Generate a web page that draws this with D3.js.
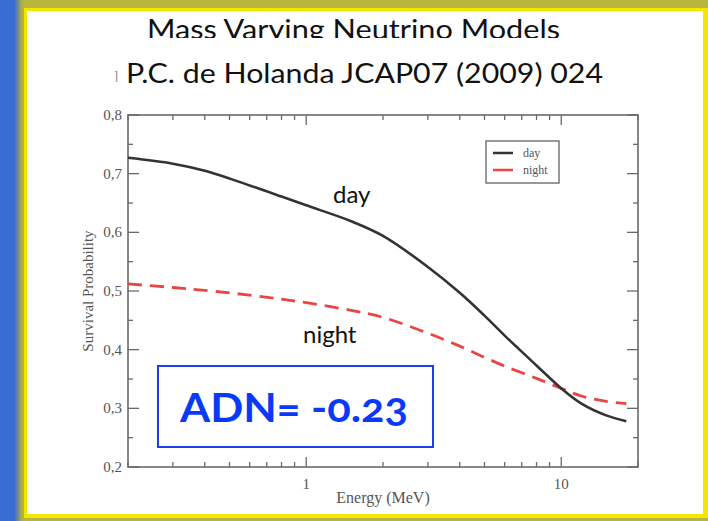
<!DOCTYPE html>
<html><head><meta charset="utf-8">
<script src="https://cdn.jsdelivr.net/npm/d3@7/dist/d3.min.js"></script>
<style>body{margin:0;background:#fff}svg{display:block}</style>
</head><body>
<svg id="c" width="708" height="521"></svg>
<script>
const energy = [0.2,0.3,0.4,0.6,0.8,1,1.5,2,3,4,5,6,8,10,12,15,18];
const dayProb = [0.727,0.717,0.705,0.680,0.661,0.646,0.619,0.594,0.541,0.497,0.458,0.424,0.373,0.334,0.308,0.288,0.278];
const nightProb = [0.512,0.506,0.501,0.493,0.486,0.480,0.467,0.455,0.428,0.406,0.387,0.372,0.351,0.334,0.321,0.312,0.308];
const yTicks = [0.2,0.3,0.4,0.5,0.6,0.7,0.8];
const xTickLabels = [1,10];
const seriesNames = ["day","night"];
const titleLines = ["Mass Varying Neutrino Models","P.C. de Holanda JCAP07 (2009) 024"];
const adnText = "ADN= -0.23";

const svg = d3.select("#c");
const defs = svg.append("defs");
const g1 = defs.append("linearGradient").attr("id","lg").attr("x1","0").attr("x2","1");
g1.append("stop").attr("offset","0").attr("stop-color","#3a6cd6");
g1.append("stop").attr("offset","0.55").attr("stop-color","#3a6cd6");
g1.append("stop").attr("offset","0.85").attr("stop-color","#b3b240");
g1.append("stop").attr("offset","1").attr("stop-color","#b8b63c");
svg.append("rect").attr("width",708).attr("height",521).attr("fill","#b8b63c");
svg.append("rect").attr("width",26).attr("height",521).attr("fill","url(#lg)");
svg.append("rect").attr("x",24).attr("y",8).attr("width",684).attr("height",510).attr("fill","#f4e600");
svg.append("rect").attr("x",27).attr("y",11).attr("width",676).attr("height",503).attr("fill","#fff");

const L=128,R=638,T=115,B=467;
const x = d3.scaleLog().domain([0.2,20]).range([L,R]);
const y = d3.scaleLinear().domain([0.2,0.8]).range([B,T]);
const axisColor="#6a6a6a";

svg.append("rect").attr("x",L).attr("y",T).attr("width",R-L).attr("height",B-T)
  .attr("fill","none").attr("stroke",axisColor).attr("stroke-width",1.6);

const xMinor = [];
[0.1,1,10].forEach(d=>{for(let k=1;k<10;k++){const v=d*k; if(v>=0.2&&v<=20) xMinor.push(v);}});
const tg = svg.append("g").attr("stroke",axisColor).attr("stroke-width",1.3);
xMinor.forEach(v=>{
  const major = xTickLabels.includes(v);
  const len = major?10:5;
  tg.append("line").attr("x1",x(v)).attr("x2",x(v)).attr("y1",B).attr("y2",B-len);
  tg.append("line").attr("x1",x(v)).attr("x2",x(v)).attr("y1",T).attr("y2",T+len);
});
const yMinor = d3.range(0.25,0.8,0.1);
yTicks.forEach(v=>{
  tg.append("line").attr("x1",L).attr("x2",L+11).attr("y1",y(v)).attr("y2",y(v));
  tg.append("line").attr("x1",R).attr("x2",R-11).attr("y1",y(v)).attr("y2",y(v));
});
yMinor.forEach(v=>{
  tg.append("line").attr("x1",L).attr("x2",L+5).attr("y1",y(v)).attr("y2",y(v));
  tg.append("line").attr("x1",R).attr("x2",R-5).attr("y1",y(v)).attr("y2",y(v));
});
const serif = "'Liberation Serif','DejaVu Serif',serif";
const lab = svg.append("g").attr("font-family",serif).attr("fill","#555").attr("font-size",15);
yTicks.forEach(v=>{
  lab.append("text").attr("x",L-6).attr("y",y(v)+5).attr("text-anchor","end")
    .text(d3.format(".1f")(v).replace(".",","));
});
xTickLabels.forEach(v=>{
  lab.append("text").attr("x",x(v)).attr("y",B+22).attr("text-anchor","middle").text(v);
});
lab.append("text").attr("x",(L+R)/2).attr("y",503).attr("text-anchor","middle").attr("font-size",16).text("Energy (MeV)");
lab.append("text").attr("transform",`translate(93,${(T+B)/2}) rotate(-90)`).attr("text-anchor","middle").attr("font-size",15).text("Survival Probability");

const line = d3.line().x(d=>x(d[0])).y(d=>y(d[1])).curve(d3.curveCatmullRom.alpha(0.5));
svg.append("path").datum(energy.map((e,i)=>[e,nightProb[i]])).attr("d",line)
  .attr("fill","none").attr("stroke","#ea4545").attr("stroke-width",2.8).attr("stroke-dasharray","14,8");
svg.append("path").datum(energy.map((e,i)=>[e,dayProb[i]])).attr("d",line)
  .attr("fill","none").attr("stroke","#333").attr("stroke-width",2.6);

const lg = svg.append("g");
lg.append("rect").attr("x",486).attr("y",141).attr("width",73).attr("height",42)
  .attr("fill","#fff").attr("stroke","#777").attr("stroke-width",1.5);
const legColors=["#333","#ea4545"];
seriesNames.forEach((n,i)=>{
  const yy=153+i*17;
  lg.append("line").attr("x1",493).attr("x2",513).attr("y1",yy).attr("y2",yy).attr("stroke",legColors[i]).attr("stroke-width",2.5);
  lg.append("text").attr("x",523).attr("y",yy+4).attr("font-family",serif).attr("font-size",12).attr("fill","#555").text(n);
});

const sans = "Lato,'Open Sans',sans-serif";
svg.append("text").attr("x",333).attr("y",203).attr("font-family",sans).attr("font-size",24).attr("fill","#111").text(seriesNames[0]);
svg.append("text").attr("x",303).attr("y",343).attr("font-family",sans).attr("font-size",24).attr("fill","#111").text(seriesNames[1]);

svg.append("rect").attr("x",158).attr("y",366).attr("width",275).attr("height",81)
  .attr("fill","#fff").attr("stroke","#1c3cf5").attr("stroke-width",2);
svg.append("text").attr("x",180).attr("y",422).attr("font-family",sans).attr("font-weight","bold")
  .style("font-variant-numeric","oldstyle-nums").style("font-feature-settings","'onum' 1")
  .attr("font-size",40).attr("fill","#0a3af7").attr("textLength",228).attr("lengthAdjust","spacingAndGlyphs").text(adnText);

defs.append("clipPath").attr("id","tc").append("rect").attr("x",0).attr("y",0).attr("width",708).attr("height",38);
svg.append("text").attr("x",147).attr("y",39).attr("clip-path","url(#tc)").attr("font-family",sans).attr("font-size",27)
  .attr("fill","#111").attr("textLength",413).attr("lengthAdjust","spacingAndGlyphs").text(titleLines[0]);
svg.append("text").attr("x",126).attr("y",83).attr("font-family",sans).attr("font-size",27)
  .attr("fill","#111").attr("textLength",477).attr("lengthAdjust","spacingAndGlyphs").text(titleLines[1]);
svg.append("text").attr("x",114).attr("y",80).attr("font-family",serif).attr("font-size",12).attr("fill","#777").text("]");
</script>
</body></html>
